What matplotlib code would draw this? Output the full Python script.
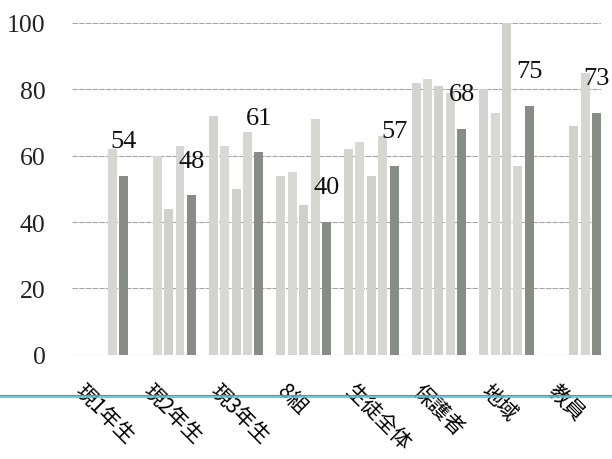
import numpy as np
import matplotlib
matplotlib.use("Agg")
import matplotlib.pyplot as plt
from matplotlib.lines import Line2D
from matplotlib.transforms import ScaledTranslation

plt.rcParams['font.family'] = ['Liberation Serif', 'Noto Sans CJK JP', 'DejaVu Sans']

# categories and values (nan = no bar)
categories = ['現1年生', '現2年生', '現3年生', '8組', '生徒全体', '保護者', '地域', '教員']
nan = np.nan
series1 = [nan, nan, 72, 54, 62, 82, 80, nan]
series2 = [nan, 60, 63, 55, 64, 83, 73, nan]
series3 = [nan, 44, 50, 45, 54, 81, 100, 69]
series4 = [62, 63, 67, 71, 66, 79, 57, 85]
current = [54, 48, 61, 40, 57, 68, 75, 73]

light = ['#d3d3cf', '#d8d8d4', '#d0d0cc', '#d6d6d2']
dark = '#878c87'

fig = plt.figure(figsize=(6.12, 4.6), dpi=100)
ax = fig.add_axes([72 / 612, 1 - 355.7 / 460, (601 - 72) / 612, (355.7 - 24) / 460])

x = np.arange(len(categories))
step = 0.1686
width = 0.133

for k, vals in enumerate([series1, series2, series3, series4]):
    ax.bar(x + (k - 2) * step, vals, width, color=light[k], zorder=2)
bars = ax.bar(x + 2 * step, current, width, color=dark, zorder=2)

# value labels above the dark bars
for b, v in zip(bars, current):
    ax.annotate(str(v), (b.get_x() + b.get_width() / 2, v), xytext=(0, 25),
                textcoords='offset points', ha='center', va='center',
                fontsize=19, color='#111111', annotation_clip=False)

ax.set_ylim(0, 100)
ax.set_xlim(-0.43, 7.4)
ax.set_yticks([0, 20, 40, 60, 80, 100])
ax.yaxis.grid(True, color='#a5a5a5', lw=0.8, linestyle=(0, (5, 1)), zorder=0)
ax.tick_params(axis='y', length=0, pad=19, labelsize=18.5, labelcolor='#222222')
for s in ax.spines.values():
    s.set_visible(False)

ax.set_xticks(x)
ax.set_xticklabels(categories, rotation=-45, ha='left', va='top',
                   rotation_mode='anchor', fontsize=15,
                   family=['Noto Sans CJK JP', 'DejaVu Sans'])
ax.tick_params(axis='x', length=0, pad=18)
shift = ScaledTranslation(-15 / 100, 0, fig.dpi_scale_trans)
for lab in ax.get_xticklabels():
    lab.set_transform(lab.get_transform() + shift)

# the coloured rule across the scan
fig.add_artist(Line2D([0, 1], [1 - 396 / 460] * 2, color='#e06060', lw=0.8))
fig.add_artist(Line2D([0, 1], [1 - 398 / 460] * 2, color='#4cc3e6', lw=1.2))

fig.savefig('out.png', dpi=100)
